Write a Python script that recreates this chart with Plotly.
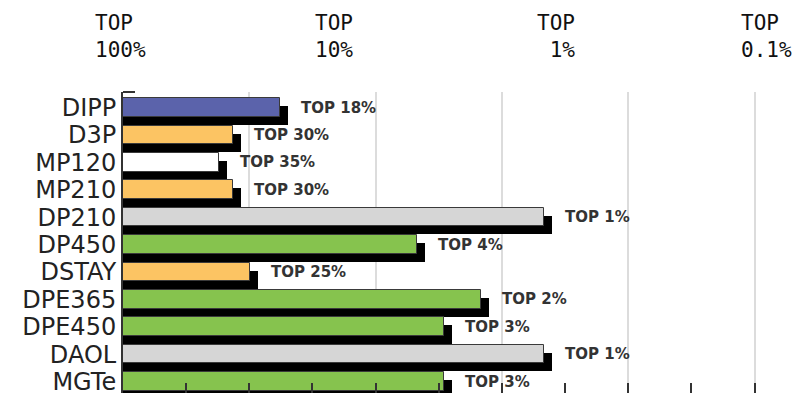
import math
import plotly.graph_objects as go

categories = ["DIPP", "D3P", "MP120", "MP210", "DP210", "DP450", "DSTAY",
              "DPE365", "DPE450", "DAOL", "MGTe"]
top_percent = [18, 30, 35, 30, 1, 4, 25, 2, 3, 1, 3]
bar_colors = ["#5b63ab", "#fcc463", "#ffffff", "#fcc463", "#d6d6d6", "#86c34e",
              "#fcc463", "#86c34e", "#86c34e", "#d6d6d6", "#86c34e"]
scale_percent = [100, 10, 1, 0.1]
scale_text = ["TOP\u00a0<br>100%", "TOP<br>10%", "TOP<br>\u00a01%", "TOP\u00a0<br>0.1%"]
scale_shift = [-3, 0, 12, 12]

# position on reversed log scale: decades above "TOP 100%"
xs = [math.log10(100 / p) for p in top_percent]
ys = list(range(len(categories)))

W, H = 798, 393
L, T = 123, 92
px_per_decade = 210.5
x_max = (W - L) / px_per_decade
row_px = 27.4
bar_w = 18.5 / row_px
shadow_dx = 8 / px_per_decade
shadow_dy = 8 / row_px
row0 = 107.5
y_top_val = -(row0 - T) / row_px
y_bot_val = (H - row0) / row_px

fig = go.Figure()
fig.add_trace(go.Bar(
    orientation="h", x=[v + shadow_dx for v in xs], y=ys,
    width=bar_w, offset=-bar_w / 2 + shadow_dy,
    marker=dict(color="#000000", line=dict(width=0)),
    hoverinfo="skip", showlegend=False))
fig.add_trace(go.Bar(
    orientation="h", x=xs, y=ys,
    width=bar_w, offset=-bar_w / 2,
    marker=dict(color=bar_colors, line=dict(color="#3a3a3a", width=1)),
    showlegend=False))

annotations = []
for v, y, p in zip(xs, ys, top_percent):
    annotations.append(dict(
        x=v, y=y, xref="x", yref="y", text=f"TOP {p}%", showarrow=False,
        xanchor="left", yanchor="middle", xshift=19,
        font=dict(family="DejaVu Sans", size=15, color="#333333", weight="bold")))

for p, txt, sh in zip(scale_percent, scale_text, scale_shift):
    annotations.append(dict(
        x=math.log10(100 / p), y=1 + (T - 36) / (H - T), xref="x", yref="paper",
        text=txt, showarrow=False, xanchor="center", yanchor="middle", xshift=sh,
        align="center",
        font=dict(family="DejaVu Sans Mono", size=21, color="#111111")))

fig.update_layout(
    width=W, height=H,
    margin=dict(l=L, r=0, t=T, b=0, pad=0),
    paper_bgcolor="white", plot_bgcolor="white",
    barmode="overlay", bargap=0,
    annotations=annotations,
    shapes=[dict(type="line", xref="paper", yref="paper", x0=0, x1=12 / (W - L),
                 y0=1, y1=1, line=dict(color="#333333", width=2))],
    xaxis=dict(range=[0, x_max], tick0=0, dtick=0.6, showgrid=True,
               gridcolor="#dcdcdc", gridwidth=1.5, zeroline=False, showline=False,
               ticks="inside", ticklen=10, tickwidth=2, tickcolor="#333333",
               showticklabels=False,
               minor=dict(tick0=0, dtick=0.3, ticks="inside", ticklen=10,
                          tickwidth=2, tickcolor="#333333", showgrid=False)),
    yaxis=dict(range=[y_bot_val, y_top_val], tickvals=ys, ticktext=categories,
               showgrid=False, zeroline=False, showline=True, linecolor="#333333",
               linewidth=2, ticks="", ticklabeloverflow="allow", automargin=False,
               tickfont=dict(family="DejaVu Sans", size=24, color="#222222")),
)

fig.write_html("out.html", config={"displayModeBar": False},
               post_script="document.body.style.margin='0';document.body.style.overflow='hidden';")
